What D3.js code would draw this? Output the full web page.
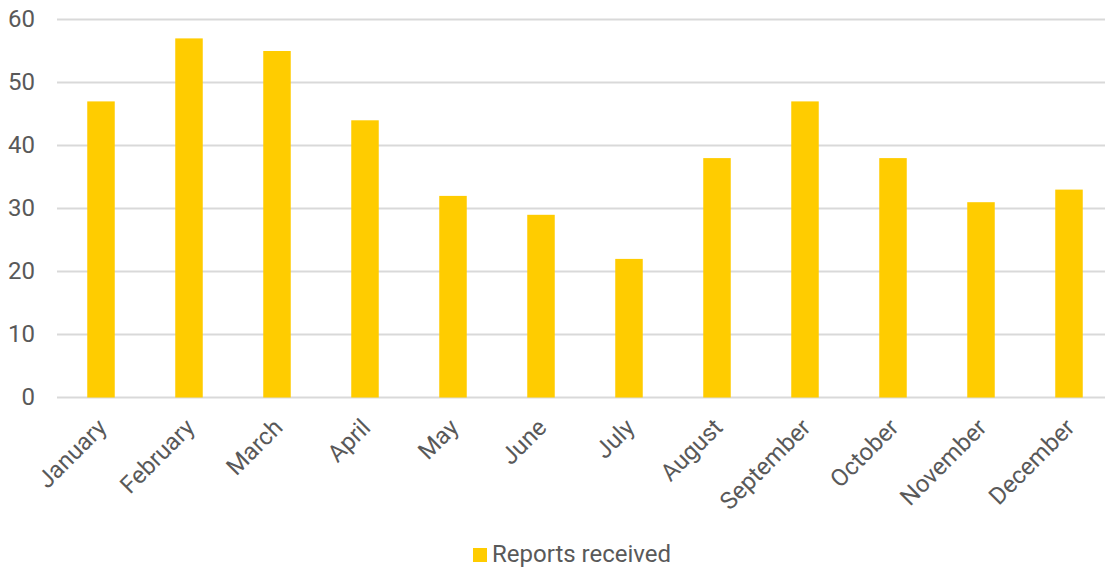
<!DOCTYPE html>
<html>
<head>
<meta charset="utf-8">
<script src="https://cdn.jsdelivr.net/npm/d3@7"></script>
<style>
  body { margin: 0; background: #fff; }
  svg text { font-family: Roboto, "Noto Sans", sans-serif; fill: #595959; }
</style>
</head>
<body>
<svg id="chart" width="1105" height="569"></svg>
<script>
// data
const months = ["January", "February", "March", "April", "May", "June",
  "July", "August", "September", "October", "November", "December"];
const reports = [47, 57, 55, 44, 32, 29, 22, 38, 47, 38, 31, 33];
const yTicks = [0, 10, 20, 30, 40, 50, 60];
const seriesName = "Reports received";

const svg = d3.select("#chart");
const plotLeft = 57, plotRight = 1113, plotTop = 19.5, plotBottom = 397.5;

const x = d3.scaleBand().domain(months).range([plotLeft, plotRight]).paddingInner(0.6875).paddingOuter(0.34375);
const y = d3.scaleLinear().domain([0, 60]).range([plotBottom, plotTop]);

// gridlines
svg.append("g").selectAll("line").data(yTicks).join("line")
  .attr("x1", plotLeft).attr("x2", 1105)
  .attr("y1", d => y(d)).attr("y2", d => y(d))
  .attr("stroke", "#d9d9d9").attr("stroke-width", 2);

// y labels
svg.append("g").selectAll("text").data(yTicks).join("text")
  .attr("x", 35).attr("y", d => y(d) - 1).attr("dy", "0.35em")
  .attr("text-anchor", "end").attr("font-size", 24)
  .text(d => d);

// bars
svg.append("g").selectAll("rect").data(reports).join("rect")
  .attr("x", (d, i) => x(months[i]))
  .attr("width", x.bandwidth())
  .attr("y", d => y(d))
  .attr("height", d => y(0) - y(d))
  .attr("fill", "#ffcc00");

// x labels
svg.append("g").selectAll("text").data(months).join("text")
  .attr("transform", d => "translate(" + (x(d) + x.bandwidth() / 2 + 7) + "," + 429 + ") rotate(-45)")
  .attr("text-anchor", "end").attr("font-size", 24)
  .text(d => d);

// legend
const lg = svg.append("g");
lg.append("rect").attr("x", 473).attr("y", 548).attr("width", 14).attr("height", 14).attr("fill", "#ffcc00");
lg.append("text").attr("x", 492).attr("y", 562).attr("font-size", 24).text(seriesName);
</script>
</body>
</html>
